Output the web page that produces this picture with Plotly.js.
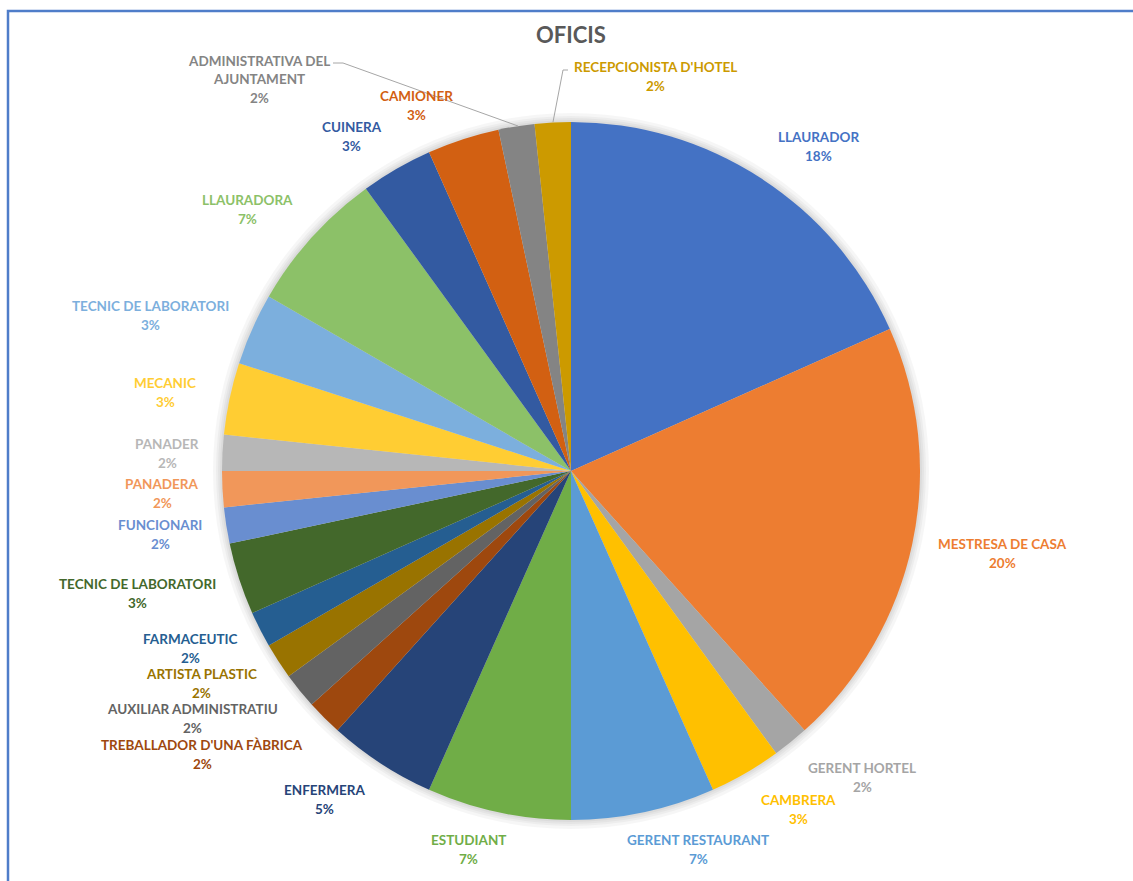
<!DOCTYPE html>
<html>
<head>
<meta charset="utf-8">
<script src="https://cdn.plot.ly/plotly-3.0.1.min.js"></script>
<style>html,body{margin:0;padding:0;background:#fff;}#chart{width:1133px;height:881px;}</style>
</head>
<body>
<div id="chart"></div>
<script>
// ---- data ----
const categories = [
  "LLAURADOR", "MESTRESA DE CASA", "GERENT HORTEL", "CAMBRERA", "GERENT RESTAURANT",
  "ESTUDIANT", "ENFERMERA", "TREBALLADOR D'UNA FÀBRICA", "AUXILIAR ADMINISTRATIU",
  "ARTISTA PLASTIC", "FARMACEUTIC", "TECNIC DE LABORATORI", "FUNCIONARI", "PANADERA",
  "PANADER", "MECANIC", "TECNIC DE LABORATORI", "LLAURADORA", "CUINERA", "CAMIONER",
  "ADMINISTRATIVA DEL AJUNTAMENT", "RECEPCIONISTA D'HOTEL"
];
const counts = [11, 12, 1, 2, 4, 4, 3, 1, 1, 1, 1, 2, 1, 1, 1, 2, 2, 4, 2, 2, 1, 1];

// ---- styles / layout ----
const sliceColors = [
  "#4472C4", "#ED7D31", "#A5A5A5", "#FFC000", "#5B9BD5", "#70AD47", "#264478", "#9E480E",
  "#636363", "#997300", "#255E91", "#43682B", "#698ED0", "#F1975A", "#B7B7B7", "#FFCD33",
  "#7CAFDD", "#8CC168", "#335AA1", "#D26012", "#848484", "#CC9A00"
];
// label block centres (pixels) in the 1133x881 figure
const labelCentres = [
  [818, 146.5], [1002, 553.5], [862, 777.5], [798, 809.5], [698, 849.5],
  [468, 849.5], [324, 799], [202, 754], [192, 718.5], [201, 683],
  [190, 648], [137, 593.5], [160, 534], [162, 493], [167, 453],
  [165, 392.5], [150, 315.5], [247, 209.5], [352, 136.5], [416, 105.5],
  [259, 79.5], [655, 76.5]
];

const W = 1133, H = 881;
const CX = 571, CY = 471, R = 349;
const LINE = 19, FONT = "Lato, 'Open Sans', sans-serif";
const px = x => x / W, py = y => 1 - y / H;

const total = counts.reduce((a, b) => a + b, 0);

const trace = {
  type: "pie",
  values: counts,
  labels: categories.map((c, i) => c + " #" + (i + 1)),
  customdata: categories,
  hovertemplate: "%{customdata}<br>%{percent}<extra></extra>",
  marker: { colors: sliceColors, line: { width: 0 } },
  sort: false,
  direction: "clockwise",
  rotation: 0,
  textinfo: "none",
  showlegend: false,
  domain: { x: [px(CX - R), px(CX + R)], y: [py(CY + R), py(CY - R)] }
};

function wrap(s) {
  if (s.length <= 26) return [s];
  const k = s.lastIndexOf(" ", 20);
  return [s.slice(0, k), s.slice(k + 1)];
}

const annotations = [];
categories.forEach((c, i) => {
  const lines = wrap(c).concat([Math.round(counts[i] / total * 100) + "%"]);
  const [lx, ly] = labelCentres[i];
  const y0 = ly - (lines.length - 1) * LINE / 2;
  lines.forEach((t, j) => {
    annotations.push({
      text: t, showarrow: false, xref: "paper", yref: "paper",
      x: px(lx), y: py(y0 + j * LINE), xanchor: "center", yanchor: "middle",
      borderpad: 0,
      font: { family: FONT, size: 13.5, color: sliceColors[i], weight: "bold" }
    });
  });
});

const shapes = [];
// soft shadow around the pie
[9, 6, 4, 2].forEach(k => {
  shapes.push({
    type: "circle", xref: "paper", yref: "paper", layer: "below",
    x0: px(CX - R - k), x1: px(CX + R + k), y0: py(CY + R + k), y1: py(CY - R - k),
    fillcolor: "rgba(0,0,0,0.035)", line: { width: 0 }
  });
});
// leader lines
shapes.push({
  type: "path", xref: "paper", yref: "paper",
  path: `M ${px(333)},${py(63)} L ${px(343)},${py(63)} L ${px(518)},${py(126)}`,
  line: { color: "#A6A6A6", width: 1 }
});
shapes.push({
  type: "path", xref: "paper", yref: "paper",
  path: `M ${px(568)},${py(70)} L ${px(563)},${py(70)} L ${px(553)},${py(122)}`,
  line: { color: "#A6A6A6", width: 1 }
});
// chart area border
shapes.push({
  type: "path", xref: "paper", yref: "paper",
  path: `M ${px(8)},0 L ${px(8)},${py(11)} L 1,${py(11)}`,
  line: { color: "#4F7DC9", width: 2.5 }
});

const layout = {
  width: W, height: H,
  margin: { l: 0, r: 0, t: 0, b: 0 },
  paper_bgcolor: "#ffffff",
  plot_bgcolor: "#ffffff",
  title: {
    text: "OFICIS",
    font: { family: FONT, size: 22, color: "#595959", weight: "bold" },
    x: px(CX), xanchor: "center", xref: "paper",
    y: py(35), yanchor: "middle", yref: "paper"
  },
  annotations: annotations,
  shapes: shapes
};

Plotly.newPlot("chart", [trace], layout, { displayModeBar: false, staticPlot: true });
</script>
</body>
</html>
